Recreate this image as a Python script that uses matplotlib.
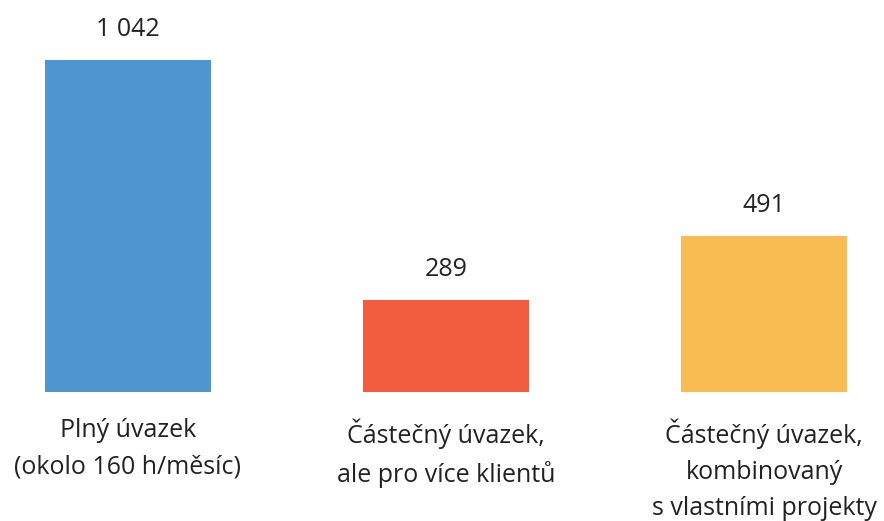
import matplotlib
matplotlib.use("Agg")
import matplotlib.pyplot as plt

# data
categories = [
    "Plný úvazek\n(okolo 160 h/měsíc)",
    "Částečný úvazek,\nale pro více klientů",
    "Částečný úvazek,\nkombinovaný\ns vlastními projekty",
]
counts = [1042, 289, 491]
value_labels = ["1 042", "289", "491"]
colors = ["#4E96D0", "#F15C3F", "#F9BC52"]

plt.rcParams["font.family"] = ["Open Sans", "DejaVu Sans"]
TXT = "#222222"

W, H = 884, 521
fig = plt.figure(figsize=(W / 100, H / 100), dpi=100)
ax = fig.add_axes([0, 129 / H, 1, 392 / H])

xs = list(range(len(counts)))
ax.bar(xs, counts, width=0.524, color=colors)

ax.set_xlim(-128 / 318, (W - 128) / 318)
ax.set_ylim(0, 392 * 1042 / 332)
ax.axis("off")

# value above each bar
for x, v, lab in zip(xs, counts, value_labels):
    ax.annotate(lab, (x, v), xytext=(0, 17.3), textcoords="offset points",
                ha="center", va="baseline", fontsize=18, color=TXT)

# category text under the bars
for x, lab in zip(xs, categories):
    ax.annotate(lab, (x, 0), xytext=(0, -19), textcoords="offset points",
                ha="center", va="top", fontsize=18, color=TXT,
                linespacing=1.58, annotation_clip=False)

fig.savefig("out.png", dpi=100)
